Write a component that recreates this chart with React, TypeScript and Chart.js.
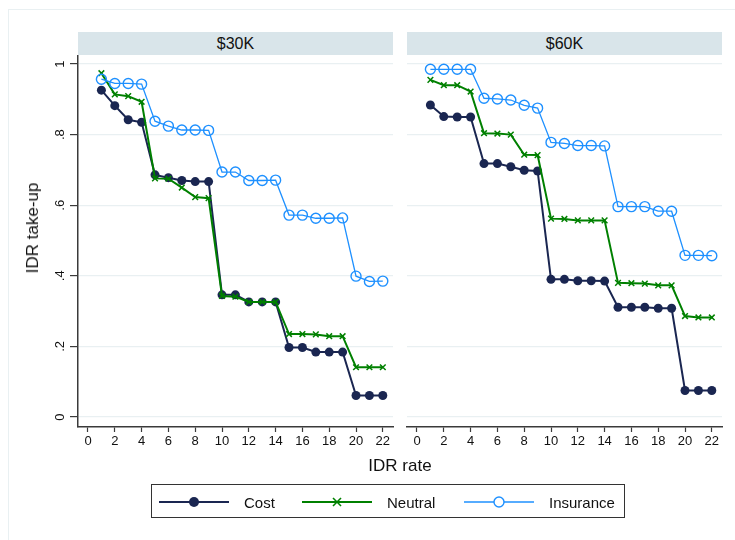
import React, { useEffect, useRef } from "react";
import { Chart, registerables } from "chart.js";

Chart.register(...registerables);

const rates = [1, 2, 3, 4, 5, 6, 7, 8, 9, 10, 11, 12, 13, 14, 15, 16, 17, 18, 19, 20, 21, 22];
const panelTitles = ["$30K", "$60K"];
const seriesNames = ["Cost", "Neutral", "Insurance"];
const yTicks = [0, 0.2, 0.4, 0.6, 0.8, 1];
const xTicks = [0, 2, 4, 6, 8, 10, 12, 14, 16, 18, 20, 22];

const cost30 = [0.926, 0.882, 0.842, 0.835, 0.686, 0.678, 0.670, 0.667, 0.667, 0.346, 0.346, 0.326, 0.326, 0.326, 0.197, 0.197, 0.184, 0.184, 0.184, 0.061, 0.061, 0.061];
const neutral30 = [0.974, 0.914, 0.909, 0.893, 0.676, 0.675, 0.650, 0.623, 0.620, 0.343, 0.341, 0.326, 0.326, 0.326, 0.235, 0.235, 0.234, 0.229, 0.229, 0.141, 0.141, 0.141];
const insurance30 = [0.957, 0.945, 0.945, 0.943, 0.838, 0.824, 0.813, 0.813, 0.812, 0.694, 0.694, 0.670, 0.670, 0.671, 0.572, 0.572, 0.563, 0.563, 0.564, 0.399, 0.384, 0.385];

const cost60 = [0.884, 0.851, 0.850, 0.850, 0.718, 0.718, 0.709, 0.699, 0.697, 0.390, 0.390, 0.386, 0.386, 0.385, 0.311, 0.311, 0.311, 0.308, 0.308, 0.075, 0.075, 0.075];
const neutral60 = [0.955, 0.940, 0.940, 0.922, 0.804, 0.803, 0.800, 0.743, 0.742, 0.562, 0.561, 0.557, 0.557, 0.557, 0.380, 0.379, 0.378, 0.373, 0.373, 0.286, 0.282, 0.282];
const insurance60 = [0.985, 0.985, 0.985, 0.985, 0.903, 0.901, 0.898, 0.883, 0.875, 0.778, 0.775, 0.769, 0.769, 0.768, 0.596, 0.596, 0.596, 0.583, 0.583, 0.458, 0.458, 0.457];

const COST = "#1a2651";
const NEUTRAL = "#008000";
const INS = "#1e90ff";
const GRID = "#e9f0f2";
const AXIS = "#3a3a3a";
const FONT = "'Liberation Sans', Arial, Helvetica, sans-serif";

function toPts(vals: number[]) {
  return vals.map((v, i) => ({ x: rates[i], y: v }));
}

function makeConfig(cost: number[], neutral: number[], ins: number[], showY: boolean): any {
  return {
    type: "line",
    data: {
      datasets: [
        {
          label: seriesNames[2],
          data: toPts(ins),
          borderColor: INS,
          backgroundColor: "rgba(0,0,0,0)",
          borderWidth: 1.3,
          pointStyle: "circle",
          pointRadius: 5,
          pointBorderWidth: 1.4,
          pointBorderColor: INS,
          pointBackgroundColor: "rgba(0,0,0,0)",
        },
        {
          label: seriesNames[1],
          data: toPts(neutral),
          borderColor: NEUTRAL,
          backgroundColor: NEUTRAL,
          borderWidth: 2,
          pointStyle: "crossRot",
          pointRadius: 4,
          pointBorderWidth: 1.5,
          pointBorderColor: NEUTRAL,
        },
        {
          label: seriesNames[0],
          data: toPts(cost),
          borderColor: COST,
          backgroundColor: COST,
          borderWidth: 2,
          pointStyle: "circle",
          pointRadius: 4.5,
          pointBorderWidth: 0,
          pointBackgroundColor: COST,
        },
      ],
    },
    options: {
      animation: false,
      responsive: false,
      maintainAspectRatio: false,
      events: [],
      layout: { padding: showY ? { top: 56, right: 7, left: 0, bottom: 0 } : { top: 56, right: 13, left: 7, bottom: 0 } },
      plugins: { legend: { display: false }, tooltip: { enabled: false }, title: { display: false } },
      elements: { line: { tension: 0 } },
      scales: {
        x: {
          type: "linear",
          min: -0.746,
          max: 22.76,
          afterBuildTicks: (s: any) => { s.ticks = xTicks.map((v) => ({ value: v })); },
          afterFit: (s: any) => { s.height = 33; },
          ticks: {
            color: "#111",
            font: { family: FONT, size: 13 },
            padding: 2,
            maxRotation: 0,
            minRotation: 0,
            autoSkip: false,
            callback: (v: any) => String(v),
          },
          grid: { drawOnChartArea: false, drawTicks: true, tickLength: 5, tickColor: AXIS, tickWidth: 1.2 },
          border: { display: true, color: AXIS, width: 1.5 },
        },
        y: {
          type: "linear",
          min: -0.0283,
          max: 1.0227,
          afterBuildTicks: (s: any) => { s.ticks = yTicks.map((v) => ({ value: v })); },
          afterFit: (s: any) => { s.width = showY ? 78 : 0; },
          ticks: {
            display: showY,
            color: "#111",
            font: { family: FONT, size: 13 },
            minRotation: 90,
            maxRotation: 90,
            crossAlign: "center",
            padding: 4,
            autoSkip: false,
            callback: (v: any) => (v === 0 ? "0" : v === 1 ? "1" : String(Number(v).toFixed(1)).replace(/^0/, "")),
          },
          grid: {
            drawOnChartArea: true,
            color: GRID,
            lineWidth: 1.2,
            drawTicks: showY,
            tickLength: 8,
            tickColor: AXIS,
            tickWidth: 1.2,
          },
          border: { display: showY, color: AXIS, width: 1.5 },
        },
      },
    },
  };
}

function Panel(props: { left: number; width: number; cost: number[]; neutral: number[]; ins: number[]; showY: boolean }) {
  const ref = useRef<HTMLCanvasElement>(null);
  useEffect(() => {
    if (!ref.current) return;
    const chart = new Chart(ref.current, makeConfig(props.cost, props.neutral, props.ins, props.showY));
    return () => chart.destroy();
  }, []);
  return (
    <canvas
      ref={ref}
      width={props.width}
      height={460}
      style={{ position: "absolute", left: props.left, top: 0, width: props.width, height: 460 }}
    />
  );
}

function LegendItem(props: { color: string; kind: string; label: string; left: number }) {
  const { color, kind, label, left } = props;
  let marker: any = null;
  if (kind === "dot") marker = <circle cx={35} cy={10} r={5} fill={color} />;
  else if (kind === "ring") marker = <circle cx={35} cy={10} r={5} fill="#fff" stroke={color} strokeWidth={1.4} />;
  else
    marker = (
      <g stroke={color} strokeWidth={1.6}>
        <line x1={31} y1={6} x2={39} y2={14} />
        <line x1={39} y1={6} x2={31} y2={14} />
      </g>
    );
  return (
    <div style={{ position: "absolute", left, top: 0, height: 34, display: "flex", alignItems: "center" }}>
      <svg width={70} height={20} style={{ display: "block" }}>
        <line x1={0} y1={10} x2={70} y2={10} stroke={color} strokeWidth={kind === "ring" ? 1.4 : 2.2} />
        {marker}
      </svg>
      <span style={{ marginLeft: 15, fontSize: 15, fontFamily: FONT, color: "#111" }}>{label}</span>
    </div>
  );
}

export default function App() {
  return (
    <div style={{ position: "absolute", left: 0, top: 0, width: 735, height: 540, background: "#fff", overflow: "hidden", fontFamily: FONT }}>
      <div style={{ position: "absolute", left: 8, top: 9, width: 740, height: 540, border: `1px solid ${GRID}`, boxSizing: "border-box" }} />
      <Panel left={0} width={400} cost={cost30} neutral={neutral30} ins={insurance30} showY={true} />
      <Panel left={400} width={335} cost={cost60} neutral={neutral60} ins={insurance60} showY={false} />
      <div style={{ position: "absolute", left: 78, top: 32, width: 315, height: 23, background: "#d9e5ea", display: "flex", alignItems: "center", justifyContent: "center", fontSize: 16, color: "#111" }}>
        {panelTitles[0]}
      </div>
      <div style={{ position: "absolute", left: 407, top: 32, width: 315, height: 23, background: "#d9e5ea", display: "flex", alignItems: "center", justifyContent: "center", fontSize: 16, color: "#111" }}>
        {panelTitles[1]}
      </div>
      <div style={{ position: "absolute", left: 33, top: 228, transform: "translate(-50%, -50%) rotate(-90deg)", whiteSpace: "nowrap", fontSize: 17, color: "#111" }}>
        IDR take-up
      </div>
      <div style={{ position: "absolute", left: 400, top: 466, transform: "translate(-50%, -50%)", whiteSpace: "nowrap", fontSize: 17, color: "#111" }}>
        IDR rate
      </div>
      <div style={{ position: "absolute", left: 151, top: 484, width: 474, height: 34, border: "1.5px solid #333", boxSizing: "border-box", background: "#fff" }}>
        <LegendItem color={COST} kind="dot" label={seriesNames[0]} left={7} />
        <LegendItem color={NEUTRAL} kind="cross" label={seriesNames[1]} left={150} />
        <LegendItem color={INS} kind="ring" label={seriesNames[2]} left={312} />
      </div>
    </div>
  );
}
